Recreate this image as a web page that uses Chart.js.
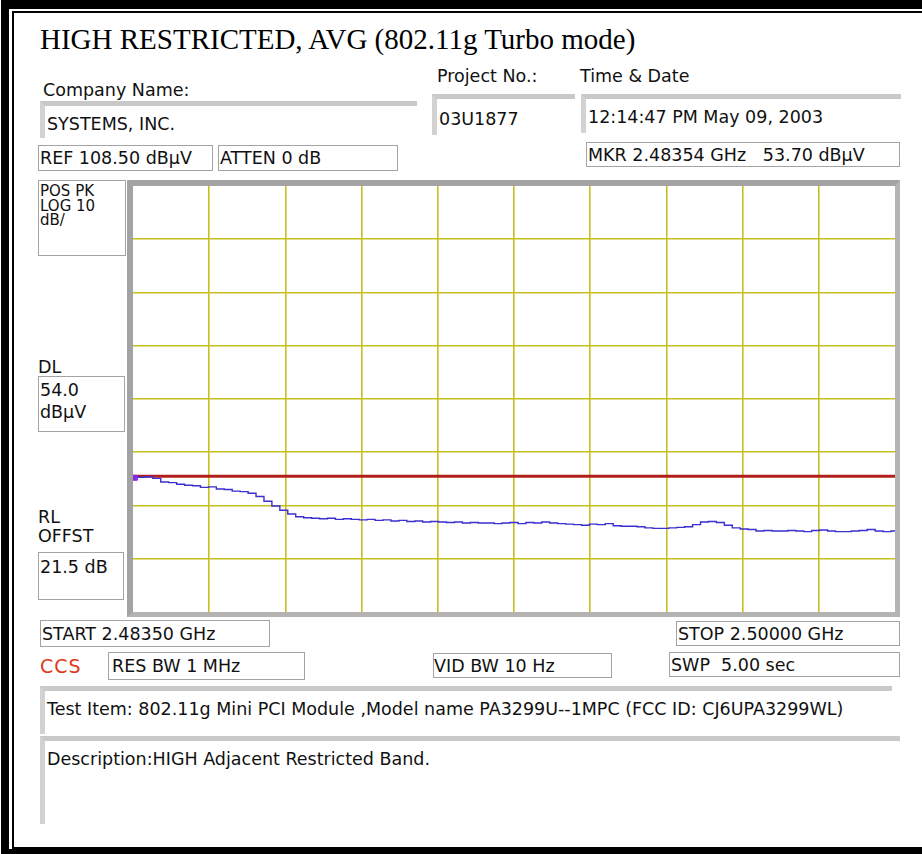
<!DOCTYPE html>
<html>
<head>
<meta charset="utf-8">
<script src="https://cdn.jsdelivr.net/npm/chart.js@4"></script>
<style>
  html, body { margin: 0; padding: 0; background: #fff; overflow: hidden; }
  body { width: 922px; height: 854px; position: relative; font-family: "DejaVu Sans", sans-serif; font-size: 17.5px; color: #111; }
  .lbl { position: absolute; white-space: nowrap; height: 20px; line-height: 20px; }
  .box { position: absolute; box-sizing: border-box; border: 1px solid #a4a4a4; background: #fff; white-space: nowrap; padding-left: 1px; overflow: hidden; }
  .field { position: absolute; box-sizing: border-box; border-top: 5px solid #c9c9c9; border-left: 5px solid #d2d2d2; white-space: nowrap; padding-left: 2px; }
  #frameOuter { position: absolute; left: 1px; top: 0; width: 960px; height: 854px; box-sizing: border-box; border-left: 8px solid #000; border-top: 9px solid #000; border-bottom: 5px solid #000; }
  #frameInner { position: absolute; left: 12px; top: 11px; width: 960px; height: 838px; box-sizing: border-box; border-left: 2px solid #000; border-top: 2px solid #000; border-bottom: 2px solid #000; }
  #title { position: absolute; left: 40px; top: 25px; font-family: "Liberation Serif", serif; font-size: 29px; line-height: 28px; color: #000; white-space: nowrap; }
  #plotFrame { position: absolute; left: 127px; top: 180px; width: 773px; height: 437px; box-sizing: border-box; border-left: 6px solid #a3a3a3; border-top: 6px solid #a3a3a3; border-right: 5px solid #b4b4b4; border-bottom: 5px solid #b4b4b4; }
  #chartWrap { position: absolute; left: 133px; top: 186px; width: 762px; height: 426px; }
</style>
</head>
<body>
<div id="frameOuter"></div>
<div id="frameInner"></div>

<div id="title">HIGH RESTRICTED, AVG (802.11g Turbo mode)</div>

<div class="lbl" style="left:43px; top:80px;">Company Name:</div>
<div class="field" style="left:40px; top:101px; width:377px; height:37px; line-height:36px;">SYSTEMS, INC.</div>

<div class="lbl" style="left:437px; top:66px;">Project No.:</div>
<div class="field" style="left:432px; top:94px; width:143px; height:41px; line-height:40px;">03U1877</div>

<div class="lbl" style="left:580px; top:66px;">Time &amp; Date</div>
<div class="field" style="left:581px; top:94px; width:320px; height:39px; line-height:36px;">12:14:47 PM May 09, 2003</div>

<div class="box" style="left:38px; top:145px; width:175px; height:26px; line-height:25px;">REF 108.50 dBµV</div>
<div class="box" style="left:218px; top:145px; width:180px; height:26px; line-height:25px;">ATTEN 0 dB</div>
<div class="box" style="left:586px; top:142px; width:314px; height:25px; line-height:24px;">MKR 2.48354 GHz&nbsp;&nbsp; 53.70 dBµV</div>

<div class="box" style="left:38px; top:180px; width:88px; height:76px; line-height:14.5px; padding-top:3px; font-size:15px;">POS PK<br>LOG 10<br>dB/</div>
<div class="lbl" style="left:38px; top:357px;">DL</div>
<div class="box" style="left:38px; top:376px; width:87px; height:56px; line-height:22px; padding-top:2px;">54.0<br>dBµV</div>
<div class="lbl" style="left:38px; top:507px;">RL</div>
<div class="lbl" style="left:38px; top:526px;">OFFST</div>
<div class="box" style="left:38px; top:552px; width:86px; height:48px; line-height:28px;">21.5 dB</div>

<div id="plotFrame"></div>
<div id="chartWrap"><canvas id="chart" width="762" height="426"></canvas></div>

<div class="box" style="left:40px; top:620px; width:230px; height:27px; line-height:26px;">START 2.48350 GHz</div>
<div class="box" style="left:676px; top:621px; width:224px; height:25px; line-height:24px;">STOP 2.50000 GHz</div>
<div class="lbl" style="left:40px; top:656px; color:#e0381a; font-size:19px; letter-spacing:1px;">CCS</div>
<div class="box" style="left:108px; top:652px; width:197px; height:28px; line-height:27px; padding-left:3px;">RES BW 1 MHz</div>
<div class="box" style="left:433px; top:653px; width:179px; height:25px; line-height:24px; padding-left:0;">VID BW 10 Hz</div>
<div class="box" style="left:669px; top:652px; width:231px; height:25px; line-height:24px;">SWP&nbsp; 5.00 sec</div>

<div class="field" style="left:40px; top:686px; width:852px; height:48px; line-height:36px;">Test Item: 802.11g Mini PCI Module ,Model name PA3299U--1MPC (FCC ID: CJ6UPA3299WL)</div>
<div class="field" style="left:40px; top:736px; width:860px; height:88px; line-height:36px;">Description:HIGH Adjacent Restricted Band.</div>

<script>
// Sweep settings
const startGHz = 2.4835;
const stopGHz = 2.5;
const refLevel = 108.5;     // top of screen, dBuV
const dbPerDiv = 10;
const verticalDivs = 8;
const horizontalDivs = 10;
const displayLine = 54.0;   // DL, dBuV
const markerGHz = 2.48354;
const markerLevel = 53.70;

// Average trace, dBuV, one value per sweep point
const traceLevels = [
  54.0, 53.8, 53.9, 53.6, 52.9, 52.8, 52.5, 52.3, 52.2, 51.9,
  52.0, 51.6, 51.5, 51.2, 51.1, 50.8, 50.2, 49.3, 48.4, 47.6,
  46.9, 46.4, 46.2, 46.1, 46.0, 46.1, 45.9, 46.0, 45.9, 45.8,
  45.9, 45.7, 45.8, 45.6, 45.7, 45.5, 45.6, 45.4, 45.5, 45.4,
  45.3, 45.4, 45.2, 45.3, 45.2, 45.2, 45.1, 45.2, 45.3, 45.1,
  45.3, 45.2, 45.4, 45.2, 45.1, 45.0, 44.9, 44.8, 45.0, 44.9,
  45.1, 44.7, 44.6, 44.6, 44.5, 44.3, 44.2, 44.2, 44.3, 44.4,
  44.5, 44.9, 45.4, 45.5, 45.3, 44.8, 44.3, 44.1, 44.0, 43.7,
  43.8, 43.7, 43.7, 43.8, 43.7, 43.6, 43.8, 43.9, 43.7, 43.6,
  43.6, 43.7, 43.8, 44.0, 43.7, 43.6, 43.7
];

// sweep points are evenly spaced between START and STOP
const sweepStep = (stopGHz - startGHz) / (traceLevels.length - 1);
const tracePoints = traceLevels.map((v, i) => ({x: startGHz + i * sweepStep, y: v}));

const bottomLevel = refLevel - dbPerDiv * verticalDivs;
const gridColor = '#c6bf1e';

// hide the grid lines that sit on the edges (the grey frame is there)
const innerGrid = (count) => (ctx) => (ctx.index === 0 || ctx.index === count) ? 'rgba(0,0,0,0)' : gridColor;

new Chart(document.getElementById('chart'), {
  type: 'line',
  data: {
    datasets: [
      {
        label: 'Marker',
        data: [{x: markerGHz, y: markerLevel}],
        showLine: false,
        pointStyle: 'rect',
        pointRadius: 3.5,
        backgroundColor: '#8a2be2',
        borderColor: '#8a2be2',
        order: 0
      },
      {
        label: 'DL',
        data: [{x: startGHz, y: displayLine}, {x: stopGHz, y: displayLine}],
        borderColor: '#b3201c',
        borderWidth: 3,
        pointRadius: 0,
        order: 2
      },
      {
        label: 'Trace',
        data: tracePoints,
        borderColor: '#3b2fd0',
        borderWidth: 1.4,
        stepped: 'middle',
        pointRadius: 0,
        order: 1
      }
    ]
  },
  options: {
    responsive: false,
    animation: false,
    layout: {padding: 0, autoPadding: false},
    plugins: {legend: {display: false}, tooltip: {enabled: false}},
    scales: {
      x: {
        type: 'linear',
        min: startGHz,
        max: stopGHz,
        ticks: {display: false, count: horizontalDivs + 1},
        grid: {color: innerGrid(horizontalDivs), lineWidth: 1.6, drawTicks: false},
        border: {display: false}
      },
      y: {
        min: bottomLevel,
        max: refLevel,
        ticks: {display: false, count: verticalDivs + 1},
        grid: {color: innerGrid(verticalDivs), lineWidth: 1.6, drawTicks: false},
        border: {display: false}
      }
    }
  }
});
</script>
</body>
</html>
